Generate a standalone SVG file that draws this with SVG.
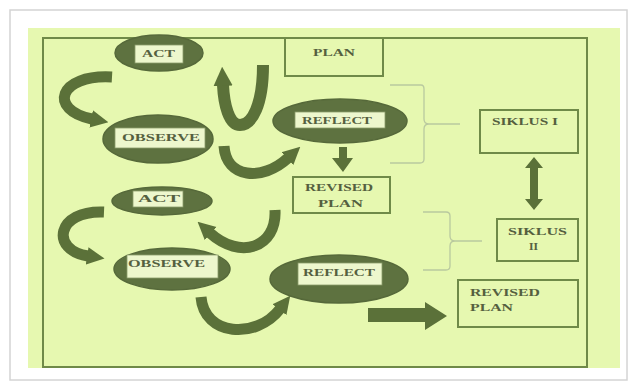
<svg xmlns="http://www.w3.org/2000/svg" width="630" height="385" viewBox="0 0 630 385">
<style>
.ell{fill:#5e7240;stroke:#56693a;stroke-width:1.5}
.lab{fill:#edf7cd;stroke:#8a9c6a;stroke-width:0.8}
.box{fill:none;stroke:#6f8a48;stroke-width:2}
.t{font-family:"Liberation Serif",serif;font-weight:bold;font-size:10.5px;fill:#55603f}
.arc{fill:none;stroke:#5b7139;stroke-width:11;stroke-linecap:butt}
.blk{fill:#5b7139}
.br{fill:none;stroke:#b9c99f;stroke-width:1.3}
</style>
<defs>
<marker id="ah" viewBox="0 0 10 10" refX="0.5" refY="5" markerWidth="1.6" markerHeight="1.7" orient="auto" markerUnits="strokeWidth">
<path d="M0,0 L10,5 L0,10 z" fill="#5b7139"/>
</marker>
</defs>
<rect x="0" y="0" width="630" height="385" fill="#ffffff"/>
<rect x="10" y="10" width="617" height="370" fill="#ffffff" stroke="#d4d4d4" stroke-width="1.5"/>
<rect x="28" y="28" width="592" height="340" fill="#e6f8b0"/>
<rect x="43" y="38" width="544" height="329" fill="none" stroke="#6f8a48" stroke-width="2"/>

<g id="connectors">
<path class="arc" d="M112,77 C58,74 48,110 92,119" marker-end="url(#ah)"/>
<path class="arc" style="stroke-width:12" d="M263,65 C263,105 252,125 240,125 C229,125 224,105 223,85" marker-end="url(#ah)"/>
<path class="arc" d="M224,146 C226,178 262,182 288,158" marker-end="url(#ah)"/>
<path class="arc" d="M104,212 C56,210 50,250 88,256" marker-end="url(#ah)"/>
<path class="arc" d="M275,210 C277,248 240,260 210,233" marker-end="url(#ah)"/>
<path class="arc" d="M201,297 C204,336 256,340 280,309" marker-end="url(#ah)"/>
<polygon class="blk" points="339,147 347,147 347,158 353,158 343,172 332,158 339,158"/>
<polygon class="blk" points="368,308 425,308 425,302 447,316 425,330 425,322 368,322"/>
<polygon class="blk" points="534,157 543,168 538,168 538,199 543,199 534,210 525,199 530,199 530,168 525,168"/>
<path class="br" d="M390,85 L421,85 Q424,85 424,89 L424,119 Q424,124 429,124 Q424,124 424,129 L424,159 Q424,163 420,163 L390,163 M429,124 L460,124"/>
<path class="br" d="M423,212 L446,212 Q450,212 450,216 L450,236 Q450,241 455,241 Q450,241 450,246 L450,266 Q450,270 446,270 L423,270 M455,241 L482,241"/>
</g>

<g id="act1">
<ellipse class="ell" cx="159" cy="53" rx="44" ry="18"/>
<rect class="lab" x="135" y="45" width="48" height="18"/>
<text class="t" x="142" y="57" textLength="33" lengthAdjust="spacingAndGlyphs">ACT</text>
</g>
<g id="plan">
<rect class="box" x="285" y="38" width="98" height="38"/>
<text class="t" x="313" y="56" textLength="42" lengthAdjust="spacingAndGlyphs">PLAN</text>
</g>
<g id="observe1">
<ellipse class="ell" cx="158" cy="139" rx="55" ry="24"/>
<rect class="lab" x="115" y="128" width="90" height="20"/>
<text class="t" x="122" y="141" textLength="78" lengthAdjust="spacingAndGlyphs">OBSERVE</text>
</g>
<g id="reflect1">
<ellipse class="ell" cx="340" cy="121" rx="67" ry="22"/>
<rect class="lab" x="295" y="112" width="90" height="16"/>
<text class="t" x="302" y="124" textLength="70" lengthAdjust="spacingAndGlyphs">REFLECT</text>
</g>
<g id="revised1">
<rect class="box" x="293" y="177" width="97" height="36"/>
<text class="t" x="305" y="191" textLength="68" lengthAdjust="spacingAndGlyphs">REVISED</text>
<text class="t" x="318" y="207" textLength="45" lengthAdjust="spacingAndGlyphs">PLAN</text>
</g>
<g id="siklus1">
<rect class="box" x="480" y="110" width="98" height="43"/>
<text class="t" x="492" y="125" textLength="66" lengthAdjust="spacingAndGlyphs">SIKLUS I</text>
</g>
<g id="act2">
<ellipse class="ell" cx="162" cy="201" rx="50" ry="14"/>
<rect class="lab" x="133" y="191" width="50" height="16"/>
<text class="t" x="138" y="202" textLength="42" lengthAdjust="spacingAndGlyphs">ACT</text>
</g>
<g id="siklus2">
<rect class="box" x="497" y="219" width="81" height="42"/>
<text class="t" x="508" y="235" textLength="59" lengthAdjust="spacingAndGlyphs">SIKLUS</text>
<text class="t" x="529" y="250" textLength="9" lengthAdjust="spacingAndGlyphs">II</text>
</g>
<g id="observe2">
<ellipse class="ell" cx="172" cy="269" rx="58" ry="21"/>
<rect class="lab" x="127" y="255" width="91" height="23"/>
<text class="t" x="128" y="267" textLength="77" lengthAdjust="spacingAndGlyphs">OBSERVE</text>
</g>
<g id="reflect2">
<ellipse class="ell" cx="339" cy="279" rx="69" ry="24"/>
<rect class="lab" x="298" y="263" width="84" height="22"/>
<text class="t" x="303" y="276" textLength="72" lengthAdjust="spacingAndGlyphs">REFLECT</text>
</g>
<g id="revised2">
<rect class="box" x="458" y="280" width="120" height="47"/>
<text class="t" x="470" y="296" textLength="70" lengthAdjust="spacingAndGlyphs">REVISED</text>
<text class="t" x="470" y="311" textLength="43" lengthAdjust="spacingAndGlyphs">PLAN</text>
</g>
</svg>
